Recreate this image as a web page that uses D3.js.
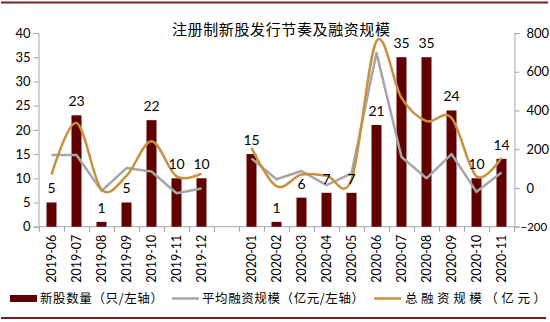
<!DOCTYPE html>
<html><head><meta charset="utf-8">
<script src="https://cdn.jsdelivr.net/npm/d3@7"></script>
<style>body{margin:0;background:#fff}svg{display:block}</style>
</head><body><svg id="c" width="550" height="322"></svg>
<script>
const categories = ["2019-06","2019-07","2019-08","2019-09","2019-10","2019-11","2019-12","",
  "2020-01","2020-02","2020-03","2020-04","2020-05","2020-06","2020-07","2020-08","2020-09","2020-10","2020-11"];
const newStocks = [5,23,1,5,22,10,10,null,15,1,6,7,7,21,35,35,24,10,14];
const avgFinancing = [14.8,14.8,7.4,12.1,11.4,6.9,7.9,null,14.1,9.8,11.5,8.6,11.0,35.9,14.4,10.0,15.0,7.2,11.2];
const totalFinancing = [69,336,-8,62,241,60,74,null,207,9,69,64,43,758,465,345,362,60,155];
const leftTicks = [0,5,10,15,20,25,30,35,40];
const rightTicks = [-200,0,200,400,600,800];
const title = "注册制新股发行节奏及融资规模";
const legendLabels = ["新股数量（只/左轴）","平均融资规模（亿元/左轴）","总融资规模（亿元）"];

const svg = d3.select("#c");
const keys = categories.map((c,i)=> c===""?"_gap":c);
const x = d3.scaleBand().domain(keys).range([39,514]).padding(0);
const yL = d3.scaleLinear().domain([0,40]).range([226.7,33]);
const yR = d3.scaleLinear().domain([-200,800]).range([226.7,33]);
const maroon = "#600000", gray = "#a6a6a6", gold = "#c8913e", axisCol = "#a6a6a6";
const numFont = "Lato, 'Open Sans', sans-serif";
const cjk = "'Noto Sans CJK SC', sans-serif";

// frame lines
svg.append("line").attr("x1",1).attr("x2",548).attr("y1",2.5).attr("y2",2.5).attr("stroke","#7a1f1f").attr("stroke-width",2);
svg.append("line").attr("x1",1).attr("x2",546).attr("y1",318).attr("y2",318).attr("stroke","#7a1f1f").attr("stroke-width",2);

// title
svg.append("text").attr("x",281).attr("y",35).attr("text-anchor","middle")
  .attr("font-family",cjk).attr("font-size",15).attr("textLength",218).attr("lengthAdjust","spacing").text(title);

// left axis
const gl = svg.append("g").attr("transform","translate(38.5,0)")
  .call(d3.axisLeft(yL).tickValues(leftTicks).tickSize(5).tickPadding(3));
gl.selectAll("path,line").attr("stroke",axisCol);
gl.selectAll("text").attr("font-family",numFont).attr("font-size",13).attr("fill","#000");

// right axis
const gr = svg.append("g").attr("transform","translate(514.5,0)")
  .call(d3.axisRight(yR).tickValues(rightTicks).tickSize(5).tickPadding(7));
gr.selectAll("path,line").attr("stroke",axisCol);
gr.selectAll("text").attr("font-family",numFont).attr("font-size",13).attr("fill","#000");
gr.selectAll(".tick").filter(d=>d<0).select("text").attr("font-size",11.5).attr("dx",-6);

// x axis
const gx = svg.append("g").attr("transform","translate(0,226.7)");
gx.append("line").attr("x1",39).attr("x2",514).attr("stroke",axisCol);
gx.selectAll("line.t").data(keys.concat(["__end"])).enter().append("line")
  .attr("x1",(d,i)=> i<keys.length? x(d)+0.5 : 514.5).attr("x2",(d,i)=> i<keys.length? x(d)+0.5 : 514.5)
  .attr("y1",0).attr("y2",5).attr("stroke",axisCol);
gx.selectAll("text").data(categories).enter().append("text")
  .attr("transform",(d,i)=>`translate(${x(keys[i])+x.bandwidth()/2+4.5},8) rotate(-90)`)
  .attr("text-anchor","end").attr("font-family",numFont).attr("font-size",12.5).attr("fill","#000").text(d=>d);

// bars
const bw = 10;
const barData = newStocks.map((v,i)=>({k:keys[i],v})).filter(d=>d.v!=null);
svg.append("g").selectAll("rect").data(barData).enter().append("rect")
  .attr("x",d=>x(d.k)+x.bandwidth()/2-bw/2).attr("width",bw)
  .attr("y",d=>yL(d.v)).attr("height",d=>yL(0)-yL(d.v)).attr("fill",maroon);

// lines
const cx = i => x(keys[i])+x.bandwidth()/2;
const avgLine = d3.line().defined(d=>d!=null).x((d,i)=>cx(i)).y(d=>yL(d));
svg.append("path").datum(avgFinancing).attr("d",avgLine).attr("fill","none")
  .attr("stroke",gray).attr("stroke-width",2.5).attr("stroke-linejoin","round");
const totLine = d3.line().defined(d=>d!=null).x((d,i)=>cx(i)).y(d=>yR(d)).curve(d3.curveCardinal.tension(0));
svg.append("path").datum(totalFinancing).attr("d",totLine).attr("fill","none")
  .attr("stroke",gold).attr("stroke-width",2.5);

// labels
svg.append("g").selectAll("text").data(barData).enter().append("text")
  .attr("x",d=>x(d.k)+x.bandwidth()/2).attr("y",d=>yL(d.v)-9)
  .attr("text-anchor","middle").attr("font-family",numFont).attr("font-size",14).attr("fill","#000").text(d=>d.v);

// legend
const lg = svg.append("g");
lg.append("rect").attr("x",10).attr("y",295).attr("width",27).attr("height",7).attr("fill",maroon);
lg.append("line").attr("x1",172).attr("x2",199).attr("y1",298.5).attr("y2",298.5).attr("stroke",gray).attr("stroke-width",2.5);
lg.append("line").attr("x1",374).attr("x2",401).attr("y1",298.5).attr("y2",298.5).attr("stroke",gold).attr("stroke-width",2.5);
const lx = [40,202,405], lw = [123,162,141];
legendLabels.forEach((t,i)=>{
  lg.append("text").attr("x",lx[i]).attr("y",303).attr("font-family",cjk).attr("font-size",12.5)
    .attr("textLength",lw[i]).attr("lengthAdjust","spacing").attr("fill","#000").text(t);
});
</script></body></html>
